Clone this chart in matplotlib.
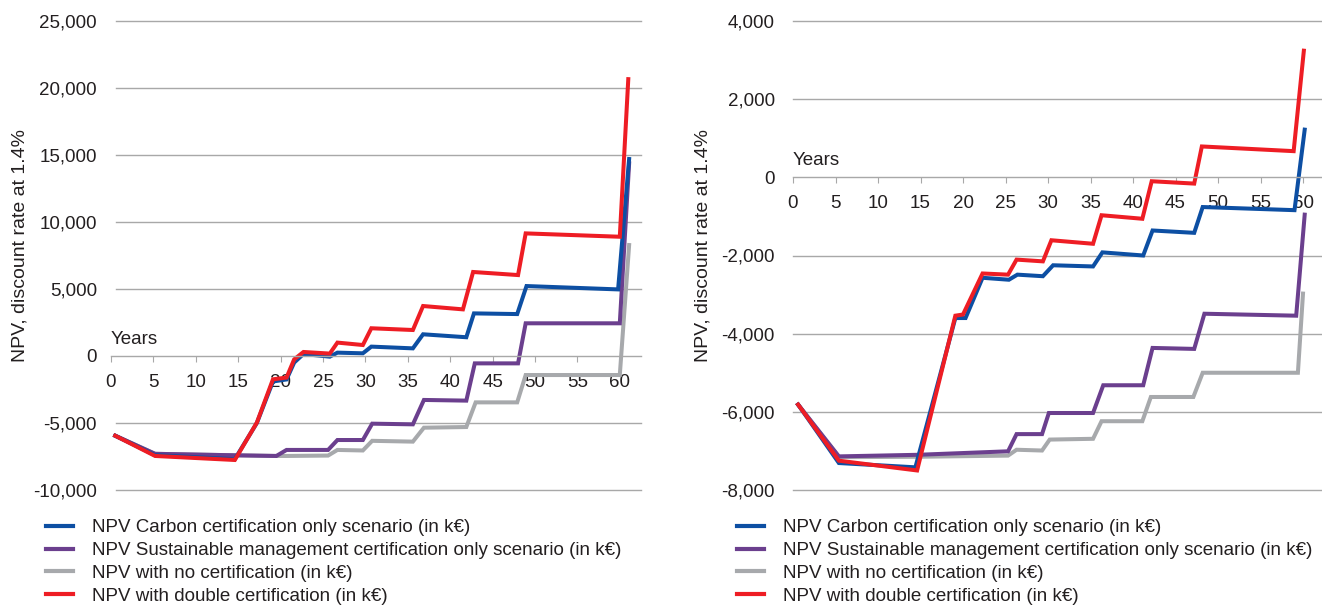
import matplotlib
matplotlib.use("Agg")
import matplotlib.pyplot as plt
from matplotlib.lines import Line2D

plt.rcParams['font.family'] = ['Liberation Sans', 'DejaVu Sans']

# labels
labels = ["NPV Carbon certification only scenario (in k\u20ac)",
          "NPV Sustainable management certification only scenario (in k\u20ac)",
          "NPV with no certification (in k\u20ac)",
          "NPV with double certification (in k\u20ac)"]
colors = ["#0d4fa3", "#6b3f8e", "#a7a9ac", "#ee1d24"]
ylabel = "NPV, discount rate at 1.4%"

# ---- left chart data (years, k euro) ----
left_carbon_x = [0.5, 5.2, 14.6, 17.2, 19.1, 20.7, 21.6, 22.7, 25.8, 26.7, 29.7, 30.7, 35.6, 36.8, 41.9, 42.8, 47.9, 49.0, 59.8, 61.1]
left_carbon_y = [-5950, -7400, -7700, -5000, -1900, -1750, -490, 150, -50, 250, 200, 700, 570, 1620, 1400, 3180, 3130, 5220, 4970, 14700]

left_sust_x = [0.5, 5.2, 14.6, 19.5, 20.7, 25.6, 26.7, 29.7, 30.8, 35.6, 36.9, 41.9, 42.9, 48.0, 48.9, 60.0, 61.1]
left_sust_y = [-5950, -7300, -7410, -7460, -7010, -7010, -6270, -6270, -5050, -5100, -3280, -3330, -550, -550, 2440, 2440, 14380]

left_none_x = [0.5, 5.2, 14.6, 19.5, 20.7, 25.6, 26.7, 29.7, 30.8, 35.6, 36.9, 41.9, 43.0, 47.9, 48.9, 60.0, 61.1]
left_none_y = [-5950, -7300, -7410, -7460, -7460, -7430, -7010, -7050, -6330, -6390, -5350, -5300, -3460, -3460, -1420, -1420, 8280]

left_double_x = [0.5, 5.2, 14.6, 17.2, 19.1, 20.7, 21.6, 22.7, 25.8, 26.7, 29.7, 30.7, 35.6, 36.8, 41.5, 42.7, 48.0, 48.9, 60.0, 61.0]
left_double_y = [-5950, -7460, -7760, -4970, -1740, -1610, -250, 300, 180, 1000, 820, 2070, 1940, 3730, 3480, 6270, 6040, 9150, 8900, 20660]

# ---- right chart data ----
right_carbon_x = [0.6, 5.4, 14.4, 19.1, 20.3, 22.3, 25.4, 26.4, 29.4, 30.6, 35.3, 36.4, 41.2, 42.3, 47.2, 48.2, 59.0, 60.2]
right_carbon_y = [-5815, -7310, -7420, -3600, -3600, -2570, -2620, -2490, -2530, -2250, -2280, -1920, -2000, -1360, -1420, -760, -840, 1220]

right_sust_x = [0.6, 5.4, 14.6, 25.3, 26.3, 29.3, 30.1, 35.3, 36.5, 41.2, 42.3, 47.2, 48.4, 59.2, 60.2]
right_sust_y = [-5815, -7140, -7100, -7010, -6570, -6570, -6030, -6030, -5320, -5320, -4365, -4390, -3490, -3540, -955]

right_none_x = [0.6, 5.4, 14.6, 25.3, 26.3, 29.3, 30.2, 35.3, 36.3, 41.1, 42.1, 47.1, 48.2, 59.4, 60.0]
right_none_y = [-5815, -7160, -7150, -7120, -6970, -6990, -6710, -6690, -6240, -6240, -5620, -5620, -5000, -5000, -2975]

right_double_x = [0.6, 5.4, 14.6, 19.1, 20.0, 22.3, 25.3, 26.3, 29.4, 30.4, 35.3, 36.3, 41.1, 42.2, 47.2, 48.1, 58.9, 60.1]
right_double_y = [-5815, -7250, -7500, -3540, -3510, -2460, -2490, -2105, -2150, -1610, -1700, -970, -1060, -100, -160, 790, 670, 3240]

left_yticks = [-10000, -5000, 0, 5000, 10000, 15000, 20000, 25000]
right_yticks = [-8000, -6000, -4000, -2000, 0, 2000, 4000]
xticks = list(range(0, 61, 5))

W, H = 1322, 608
fig = plt.figure(figsize=(W / 100, H / 100), dpi=100)

txt = "#231f20"
grid_c = "#a8a8a8"
fs = 13.5


def setup(ax, yticks, xmax, grid_start, pad):
    ax.set_ylim(yticks[0], yticks[-1])
    ax.set_xlim(0, xmax)
    for s in ['left', 'right', 'top']:
        ax.spines[s].set_visible(False)
    ax.spines['bottom'].set_position(('data', 0))
    ax.spines['bottom'].set_color(grid_c)
    ax.spines['bottom'].set_linewidth(1.0)
    for v in yticks:
        if v != 0:
            ax.axhline(v, xmin=grid_start, xmax=1, color=grid_c, lw=1.0,
                       zorder=0, clip_on=False)
    ax.set_xticks(xticks)
    ax.set_yticks(yticks)
    ax.set_yticklabels(["{:,}".format(v) for v in yticks])
    ax.tick_params(axis='x', direction='out', length=4.5, width=0.8, color=grid_c,
                   labelsize=fs, labelcolor=txt, pad=8.5)
    ax.tick_params(axis='y', length=0, labelsize=fs, labelcolor=txt, pad=pad)
    ax.annotate("Years", xy=(0, 0), xycoords='data', xytext=(0, 8.6),
                textcoords='offset points', ha='left', va='baseline',
                fontsize=fs, color=txt)


def draw(ax, series):
    for (x, y), c in series:
        ax.plot(x, y, color=c, lw=2.9, solid_joinstyle='miter', clip_on=False)


axL = fig.add_axes([111 / W, 1 - 490 / H, 530 / W, 469 / H])
setup(axL, left_yticks, 530 / 8.48, 5 / 530, 10)
draw(axL, [((left_none_x, left_none_y), colors[2]),
           ((left_sust_x, left_sust_y), colors[1]),
           ((left_carbon_x, left_carbon_y), colors[0]),
           ((left_double_x, left_double_y), colors[3])])

axR = fig.add_axes([793 / W, 1 - 490 / H, 529 / W, 469 / H])
setup(axR, right_yticks, 529 / 8.5, 0, 13)
draw(axR, [((right_none_x, right_none_y), colors[2]),
           ((right_sust_x, right_sust_y), colors[1]),
           ((right_carbon_x, right_carbon_y), colors[0]),
           ((right_double_x, right_double_y), colors[3])])

fig.text(20 / W, 1 - 246 / H, ylabel, rotation=90, ha='center', va='center',
         fontsize=14, color=txt)
fig.text(703 / W, 1 - 246 / H, ylabel, rotation=90, ha='center', va='center',
         fontsize=14, color=txt)

handles = [Line2D([], [], color=c, lw=3) for c in colors]
for x0 in (46, 737):
    fig.legend(handles, labels, loc='upper left',
               bbox_to_anchor=(x0 / W, 1 - 519 / H), bbox_transform=fig.transFigure,
               frameon=False, borderaxespad=0, borderpad=0, handlelength=1.45,
               handletextpad=0.98, labelspacing=0.31, fontsize=fs, labelcolor=txt)

fig.savefig("out.png", dpi=100)
